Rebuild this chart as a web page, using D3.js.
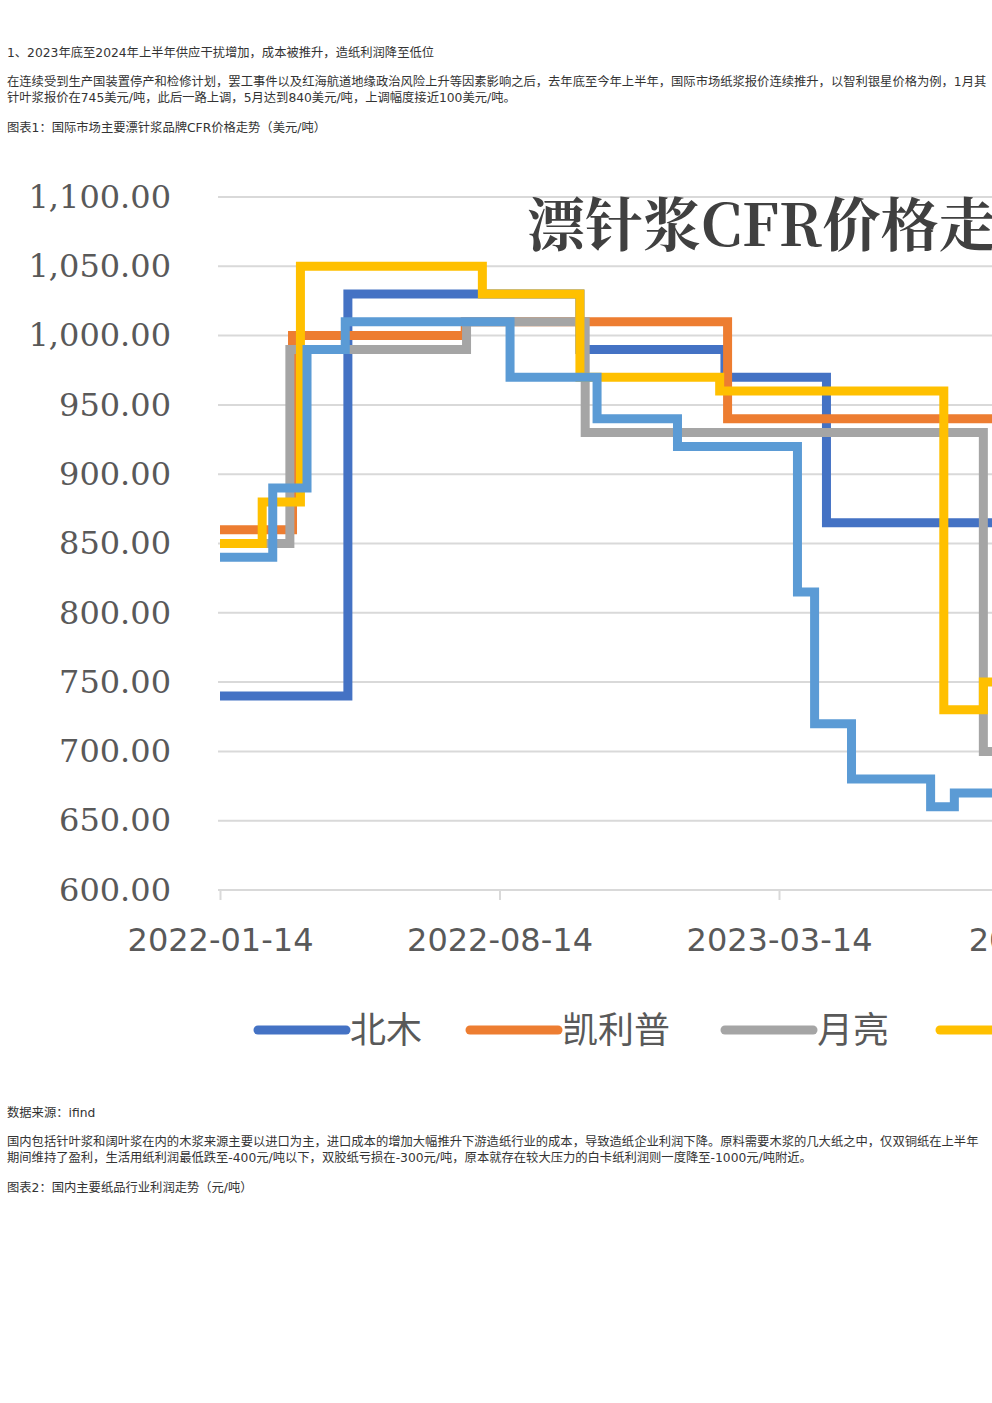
<!DOCTYPE html>
<html><head><meta charset="utf-8">
<script src="https://cdn.jsdelivr.net/npm/d3@7"></script>
<style>
body{margin:0;background:#fff;font-family:"DejaVu Sans","Noto Sans CJK SC",sans-serif;}
#wrap{position:relative;width:992px;height:1403px;overflow:hidden;}
.t{position:absolute;left:7px;font-size:12.3px;color:#333;line-height:16px;width:980px;}
svg{position:absolute;left:0;top:0;}
</style></head><body>
<div id="wrap">
<div class="t" style="top:45px">1、2023年底至2024年上半年供应干扰增加，成本被推升，造纸利润降至低位</div>
<div class="t" style="top:74px">在连续受到生产国装置停产和检修计划，罢工事件以及红海航道地缘政治风险上升等因素影响之后，去年底至今年上半年，国际市场纸浆报价连续推升，以智利银星价格为例，1月其针叶浆报价在745美元/吨，此后一路上调，5月达到840美元/吨，上调幅度接近100美元/吨。</div>
<div class="t" style="top:120px">图表1：国际市场主要漂针浆品牌CFR价格走势（美元/吨）</div>
<div class="t" style="top:1105px">数据来源：ifind</div>
<div class="t" style="top:1134px">国内包括针叶浆和阔叶浆在内的木浆来源主要以进口为主，进口成本的增加大幅推升下游造纸行业的成本，导致造纸企业利润下降。原料需要木浆的几大纸之中，仅双铜纸在上半年期间维持了盈利，生活用纸利润最低跌至-400元/吨以下，双胶纸亏损在-300元/吨，原本就存在较大压力的白卡纸利润则一度降至-1000元/吨附近。</div>
<div class="t" style="top:1180px">图表2：国内主要纸品行业利润走势（元/吨）</div>
<svg id="c" width="992" height="1403"></svg>
</div>
<script>
const seriesNames=["北木","凯利普","月亮","银星","智利"];
const colors=["#4472C4","#ED7D31","#A5A5A5","#FFC000","#5B9BD5"];
const beimu=[["2022-01-14",740],["2022-04-21",1030],["2022-10-14",990],["2023-02-01",970],["2023-04-19",865],["2023-09-01",865]];
const kailipu=[["2022-01-14",860],["2022-03-10",1000],["2022-07-19",1010],["2023-02-03",940],["2023-09-01",940]];
const yueliang=[["2022-01-14",850],["2022-03-08",990],["2022-07-20",1010],["2022-10-18",930],["2023-08-16",700],["2023-09-01",700]];
const yinxing=[["2022-01-14",850],["2022-02-15",880],["2022-03-16",1050],["2022-08-01",1030],["2022-10-14",970],["2023-01-28",960],["2023-07-17",730],["2023-08-16",750],["2023-09-01",750]];
const zhili=[["2022-01-14",840],["2022-02-23",890],["2022-03-21",990],["2022-04-19",1010],["2022-08-22",970],["2022-10-27",940],["2022-12-27",920],["2023-03-28",815],["2023-04-10",720],["2023-05-08",680],["2023-07-07",660],["2023-07-25",670],["2023-09-01",670]];
const allSeries=[beimu,kailipu,yueliang,yinxing,zhili];
const yTicks=[600,650,700,750,800,850,900,950,1000,1050,1100];
const xTicks=["2022-01-14","2022-08-14","2023-03-14","2023-10-14"];
const title="漂针浆CFR价格走势";

const p=d3.timeParse("%Y-%m-%d");
const svg=d3.select("#c");
const x=d3.scaleTime().domain([p("2022-01-14"),p("2023-03-14")]).range([220,779]);
const y=d3.scaleLinear().domain([600,1100]).range([890,197]);
const g=svg.append("g");
g.selectAll("line.grid").data(yTicks.slice(1)).join("line").attr("x1",218).attr("x2",992)
 .attr("y1",d=>y(d)).attr("y2",d=>y(d)).attr("stroke","#d9d9d9").attr("stroke-width",2);
const ax=g.append("g").attr("transform","translate(0,890)")
 .call(d3.axisBottom(x).tickValues(xTicks.map(p)).tickFormat(d3.timeFormat("%Y-%m-%d")).tickSize(10).tickSizeOuter(0));
ax.select(".domain").attr("stroke","#d9d9d9").attr("stroke-width",2).attr("d","M218,0H992");
ax.selectAll(".tick line").attr("stroke","#d9d9d9").attr("stroke-width",2);
ax.selectAll("text").attr("font-size",32).attr("fill","#595959").attr("dy","1.5em").attr("font-family","DejaVu Sans");
const ay=g.append("g").attr("transform","translate(174,0)")
 .call(d3.axisLeft(y).tickValues(yTicks).tickFormat(d3.format(",.2f")).tickSize(0));
ay.select(".domain").remove();
ay.selectAll("text").attr("font-size",32).attr("fill","#595959").attr("font-family","DejaVu Serif");
g.append("text").attr("x",527).attr("y",246).text(title).attr("font-size",58).attr("font-weight","bold")
 .attr("fill","#404040").attr("font-family","Noto Serif CJK SC,Noto Sans CJK SC,serif");
const line=d3.line().x(d=>x(p(d[0]))).y(d=>y(d[1])).curve(d3.curveStepAfter);
allSeries.forEach((s,i)=>{
 g.append("path").attr("d",line(s)).attr("fill","none").attr("stroke",colors[i]).attr("stroke-width",9).attr("stroke-linejoin","miter");
});
const lx=[258,470,725,940];
seriesNames.slice(0,4).forEach((n,i)=>{
 g.append("line").attr("x1",lx[i]).attr("x2",lx[i]+88).attr("y1",1030).attr("y2",1030).attr("stroke",colors[i]).attr("stroke-width",9).attr("stroke-linecap","round");
 g.append("text").attr("x",lx[i]+92).attr("y",1043).text(n).attr("font-size",36).attr("fill","#595959").attr("font-family","Noto Sans CJK SC");
});
</script></body></html>
